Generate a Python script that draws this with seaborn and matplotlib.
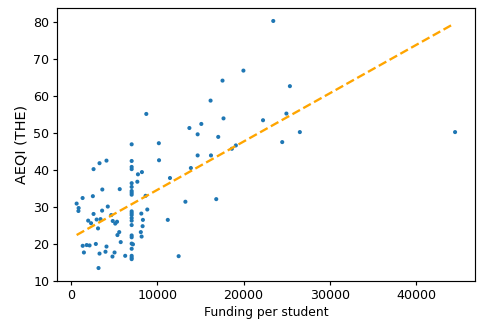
import numpy as np
import pandas as pd
import matplotlib
matplotlib.use("Agg")
import matplotlib.pyplot as plt
import seaborn as sns

funding = [23440, 19977, 17552, 25370, 16166, 8707, 24965, 17667, 22252, 13707,
           15092, 14665, 17055, 26524, 24480, 19099, 18637, 7009, 10162, 14665,
           16212, 4088, 3279, 2587, 7009, 10185, 7009, 7009, 13880, 8199,
           7737, 11455, 7667, 7009, 7009, 5624, 3603, 7009, 7009, 7009,
           2506, 8626, 13245, 16824, 1316, 624, 855, 831, 4238, 3580,
           2587, 4642, 7009, 7009, 7009, 8129, 8822, 1963, 2298, 2945,
           3395, 4815, 5312, 5104, 7009, 7009, 7009, 8314, 11201, 8279,
           3106, 5566, 5358, 8072, 8164, 7009, 7009, 5739, 1328, 1790,
           2125, 2852, 4088, 7009, 7159, 1467, 3279, 3972, 5023, 4781,
           6259, 7009, 7009, 7009, 7009, 12460, 3164, 44538]
aeqi = [80.2, 66.8, 64.1, 62.6, 58.7, 55.1, 55.2, 53.9, 53.4, 51.3,
        52.4, 49.6, 48.9, 50.2, 47.5, 46.6, 45.7, 46.9, 47.2, 43.9,
        43.9, 42.5, 41.8, 40.2, 42.4, 42.6, 40.8, 40.2, 40.5, 39.4,
        38.8, 37.8, 36.8, 36.4, 35.4, 34.8, 34.7, 34.3, 33.8, 33.3,
        32.9, 33.0, 31.4, 32.1, 32.4, 30.9, 29.7, 28.9, 30.1, 29.0,
        28.1, 27.8, 28.8, 28.3, 27.8, 28.2, 29.3, 26.3, 25.6, 26.6,
        26.7, 26.2, 26.0, 25.5, 27.0, 26.3, 25.1, 26.5, 26.5, 24.8,
        24.2, 23.2, 22.4, 23.2, 22.0, 22.3, 21.8, 20.5, 19.5, 19.7,
        19.6, 20.0, 19.3, 20.1, 19.9, 17.7, 17.4, 17.9, 17.7, 16.6,
        16.8, 18.7, 16.8, 16.3, 15.9, 16.7, 13.5, 50.2]

# regression line
fit_intercept = 21.6
fit_slope = 0.0013025

df = pd.DataFrame({"Funding per student": funding, "AEQI (THE)": aeqi})

plt.rcParams['font.family'] = ['DejaVu Sans']
fig, ax = plt.subplots(figsize=(4.0, 322 / 120), dpi=120)
fig.subplots_adjust(left=57.3 / 480, right=475 / 480, top=1 - 8 / 322, bottom=1 - 281 / 322)

sns.scatterplot(data=df, x="Funding per student", y="AEQI (THE)", ax=ax,
                s=6, color="#1f77b4", edgecolor="none", linewidth=0)

xs = np.array([min(funding), 44388.0], dtype=float)
ax.plot(xs, fit_intercept + fit_slope * xs, linestyle="--", color="orange", linewidth=1.4)

ax.set_xlim(-1620, 46850)
ax.set_ylim(10, 83.7)
ax.set_xticks([0, 10000, 20000, 30000, 40000])
ax.set_yticks([10, 20, 30, 40, 50, 60, 70, 80])
ax.tick_params(labelsize=7.6, width=0.7, length=2.4, pad=2.4)
ax.set_xlabel("Funding per student", fontsize=7.4, labelpad=2.5)
ax.set_ylabel("AEQI (THE)", fontsize=8.7, labelpad=3)
for sp in ax.spines.values():
    sp.set_linewidth(0.7)

fig.savefig("out.png", dpi=120)
